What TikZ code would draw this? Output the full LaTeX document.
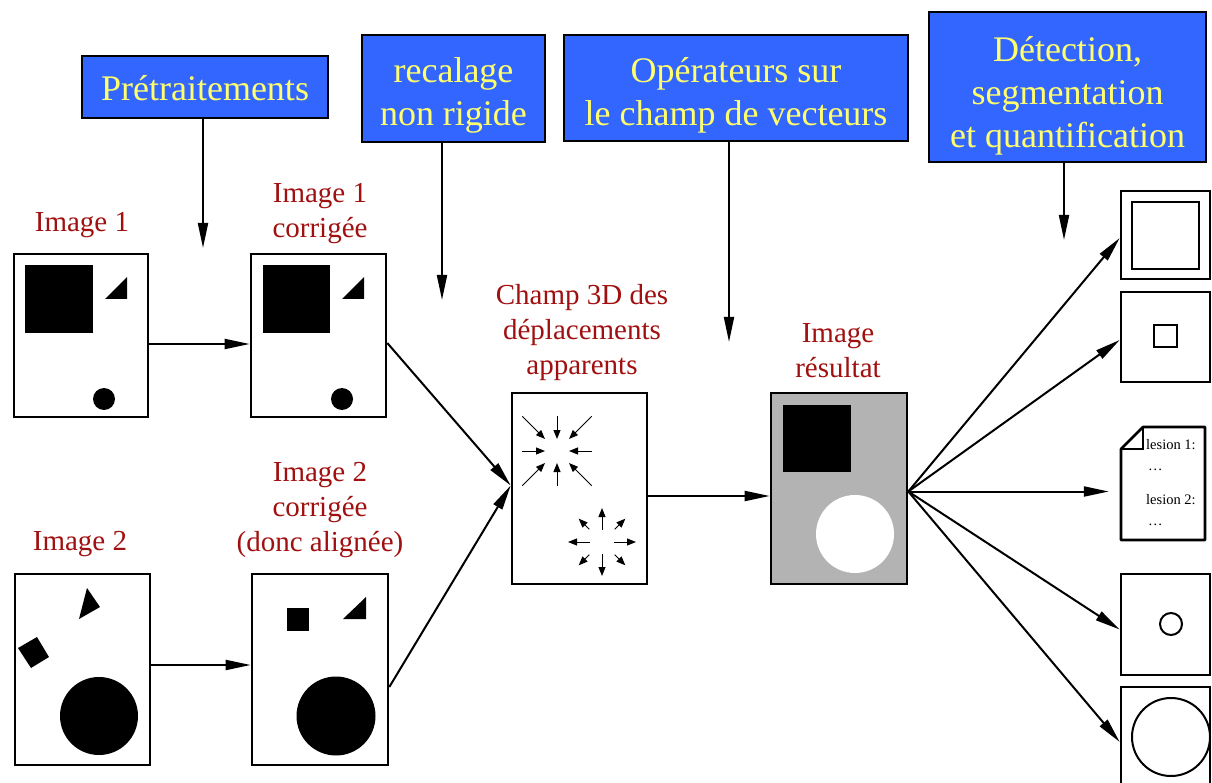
\documentclass[tikz,border=0pt]{standalone}
\usepackage{fontspec}
\setmainfont{Liberation Serif}
\usetikzlibrary{arrows.meta,calc}
\definecolor{lblred}{RGB}{160,16,16}
\definecolor{bluefill}{RGB}{51,102,255}
\definecolor{yeltext}{RGB}{255,255,110}
\definecolor{resgray}{RGB}{179,179,179}
\begin{document}
\begin{tikzpicture}[x=1pt,y=-1pt,
  frame/.style={draw,line width=2.6pt,inner sep=0pt},
  bluebox/.style={frame,fill=bluefill},
  bluetext/.style={text=yeltext,align=center,inner sep=0pt,font=\fontsize{36}{43}\selectfont},
  lbl/.style={text=lblred,align=center,font=\fontsize{29}{35}\selectfont},
  conn/.style={line width=2pt,-{Triangle[length=25pt,width=10pt]}},
  vec/.style={line width=1pt,-{Triangle[length=9pt,width=7pt]}},
  doctext/.style={anchor=west,inner sep=0pt,font=\fontsize{14.5}{17}\selectfont}]
\useasboundingbox (0,0) rectangle (1212,783);
\fill[white] (0,0) rectangle (1212,783);

% ---------- top blue boxes ----------
\node[bluebox,minimum width=246pt,minimum height=62pt] (pre) at (205,87) {};
\node[bluetext] (pret) at (205,88) {Prétraitements};
\node[bluebox,minimum width=183pt,minimum height=107pt] (rec) at (453.5,88.5) {};
\node[bluetext] (rect) at (453.5,95) {recalage\\non rigide};
\node[bluebox,minimum width=344pt,minimum height=106pt] (op) at (736,88) {};
\node[bluetext] (opt) at (736,95) {Opérateurs sur\\le champ de vecteurs};
\node[bluebox,minimum width=277pt,minimum height=150pt] (det) at (1067.5,87) {};
\node[bluetext] (dett) at (1067.5,96) {Détection,\\segmentation\\et quantification};

\coordinate (preEnd) at (203,248);
\coordinate (recEnd) at (442,300);
\coordinate (opEnd) at (729,342);
\coordinate (detEnd) at (1064,240);
\draw[conn] (pre.south -| preEnd) -- (preEnd);
\draw[conn] (rec.south -| recEnd) -- (recEnd);
\draw[conn] (op.south -| opEnd) -- (opEnd);
\draw[conn] (det.south -| detEnd) -- (detEnd);

% ---------- labels ----------
\node[lbl] (l1) at (82,225) {Image 1};
\node[lbl] (l1c) at (320,214) {Image 1\\corrigée};
\node[lbl] (l2) at (80,544) {Image 2};
\node[lbl] (l2c) at (320,510) {Image 2\\corrigée\\(donc alignée)};
\node[lbl] (lvec) at (582,333) {Champ 3D des\\déplacements\\apparents};
\node[lbl] (lres) at (838,351) {Image\\résultat};

% ---------- image boxes ----------
\node[frame,fill=white,minimum width=134pt,minimum height=163pt] (img1) at (81,335.5) {};
\node[frame,fill=white,minimum width=135pt,minimum height=163pt] (img1c) at (318.5,335.5) {};
\node[frame,fill=white,minimum width=135pt,minimum height=191pt] (img2) at (82.5,669.5) {};
\node[frame,fill=white,minimum width=136pt,minimum height=191pt] (img2c) at (320,669.5) {};
\node[frame,fill=white,minimum width=135pt,minimum height=191pt] (vecf) at (579.5,488.5) {};
\node[frame,fill=resgray,minimum width=136pt,minimum height=191pt] (res) at (839,488.5) {};

% image 1 content
\fill (25,265) rectangle (93,333);
\fill (105,299) -- (127,277) -- (127,299) -- cycle;
\fill (104,399) circle (11);
% image 1 corrected
\fill (263,265) rectangle (330,333);
\fill (342,299) -- (364,277) -- (364,299) -- cycle;
\fill (342,399) circle (11);
% image 2
\fill (18,648) -- (37,637) -- (49,657) -- (31,668) -- cycle;
\fill (87,588) -- (100,607) -- (79,619) -- cycle;
\fill (99,716) circle (39);
% image 2 corrected
\fill (287,608) rectangle (309,631);
\fill (343,619) -- (366,597) -- (366,619) -- cycle;
\fill (336,716) circle (39.5);
% vector field
\coordinate (vin) at (557,451);
\coordinate (vout) at (602,542);
\foreach \a in {0,90,180,270} \draw[vec] ($(vin)+(\a:35)$) -- ($(vin)+(\a:12)$);
\foreach \a in {45,135,225,315} \draw[vec] ($(vin)+(\a:49)$) -- ($(vin)+(\a:17)$);
\foreach \a in {0,90,180,270} \draw[vec] ($(vout)+(\a:12)$) -- ($(vout)+(\a:34)$);
\foreach \a in {45,135,225,315} \draw[vec] ($(vout)+(\a:18)$) -- ($(vout)+(\a:33)$);
% result
\fill (783,405) rectangle (851,472);
\fill[white] (855,534) circle (39);

% ---------- main connectors ----------
\draw[conn] ([yshift=-8.5pt]img1.east) -- ([yshift=-8.5pt]img1c.west);
\draw[conn] ([yshift=4.5pt]img2.east) -- ([yshift=4.5pt]img2c.west);
\draw[conn] ([yshift=-7.5pt]img1c.east) -- ([yshift=3pt]vecf.west);
\draw[conn] ([yshift=-17.5pt]img2c.east) -- ([yshift=3pt]vecf.west);
\draw[conn] ([yshift=-7.5pt]vecf.east) -- ([yshift=-7.5pt]res.west);

% ---------- outputs ----------
\node[frame,minimum width=89pt,minimum height=88pt] (o1) at (1165.5,235) {};
\draw[line width=2.6pt] (1132,202) rectangle (1199,269);
\node[frame,minimum width=89pt,minimum height=90pt] (o2) at (1165.5,337) {};
\draw[line width=2.6pt] (1154,325) rectangle (1177,347);
\node[inner sep=0pt,minimum width=82pt,minimum height=113pt] (doc) at (1162,483.5) {};
\draw[line width=2.6pt,line join=round] (1121,449) -- (1143,427) -- (1205,427) -- (1205,540) -- (1121,540) -- cycle;
\draw[line width=2pt] (1121,449) -- (1143,449) -- (1143,427);
\node[doctext] (t1) at (1146,445) {lesion 1:};
\node[doctext] (t2) at (1148,470) {\ldots};
\node[doctext] (t3) at (1146,500) {lesion 2:};
\node[doctext] (t4) at (1148,525) {\ldots};
\node[frame,minimum width=89pt,minimum height=101pt] (o4) at (1165.5,624.5) {};
\draw[line width=2pt] (1171,624) circle (11);
\node[frame,minimum width=89pt,minimum height=110pt] (o5) at (1165.5,742) {};
\draw[line width=2pt] (1171,737) circle (39);

\coordinate (fan) at ([yshift=-3pt]res.east);
\draw[conn] (fan) -- ([yshift=-3pt]o1.west);
\draw[conn] (fan) -- ([yshift=-3pt]o2.west);
\draw[conn,shorten >=12pt] (fan) -- (fan -| doc.west);
\draw[conn] (fan) -- ([yshift=-5pt]o4.west);
\draw[conn] (fan) -- (o5.west);
\end{tikzpicture}
\end{document}
